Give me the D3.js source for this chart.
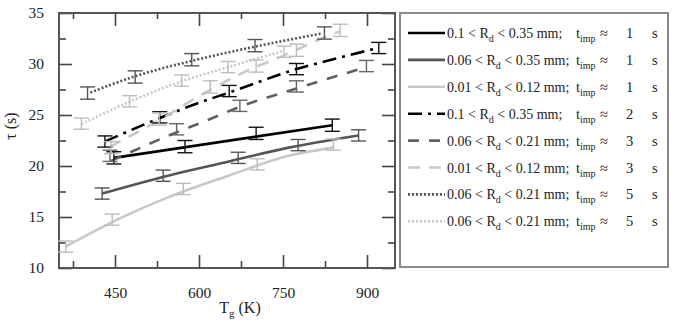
<!DOCTYPE html>
<html>
<head>
<meta charset="utf-8">
<script src="https://cdn.jsdelivr.net/npm/d3@7"></script>
<style>
  body { margin: 0; background: #fff; }
  svg { display: block; font-family: "Liberation Serif", "DejaVu Serif", serif; }
</style>
</head>
<body>
<svg id="chart" width="685" height="327"></svg>
<script>
// legend text, one entry per series
var rangeLabels = ["0.1 < R|d| < 0.35 mm;", "0.06 < R|d| < 0.35 mm;", "0.01 < R|d| < 0.12 mm;",
    "0.1 < R|d| < 0.35 mm;", "0.06 < R|d| < 0.21 mm;", "0.01 < R|d| < 0.12 mm;",
    "0.06 < R|d| < 0.21 mm;", "0.06 < R|d| < 0.21 mm;"];
var impTimes = ["1", "1", "1", "2", "3", "3", "5", "5"];

// measured points (T_g in K, tau in s) with half error bars
var pointT = [
    [448, 575, 702, 838],
    [427, 536, 670, 777, 885],
    [362, 445, 572, 704, 840],
    [432, 530, 654, 774, 921],
    [441, 560, 673, 774, 899],
    [443, 529, 620, 702, 774, 852],
    [401, 486, 587, 700, 824],
    [390, 476, 569, 652, 752]
];
var pointTau = [
    [20.8, 21.9, 23.2, 24.0],
    [17.3, 19.05, 20.8, 22.05, 23.0],
    [12.1, 14.74, 17.75, 20.16, 22.1],
    [22.4, 24.77, 27.35, 29.5, 31.57],
    [21.0, 23.6, 25.9, 27.8, 29.8],
    [21.8, 24.6, 27.75, 29.8, 31.35, 33.3],
    [27.15, 28.73, 30.42, 31.8, 33.04],
    [24.15, 26.34, 28.37, 29.7, 31.2]
];
var pointErr = [0.6, 0.55, 0.55, 0.55, 0.55, 0.6, 0.6, 0.55];

// fitted curves
var fitT = [
    [448, 838],
    [427, 548, 650, 760, 885],
    [362, 445, 548, 655, 760, 840],
    [432, 530, 600, 654, 774, 850, 921],
    [443, 560, 611, 673, 774, 899],
    [441, 529, 602, 673, 754, 837, 852],
    [406, 486, 587, 700, 820],
    [390, 476, 569, 652, 752]
];
var fitTau = [
    [20.8, 24.0],
    [17.3, 19.1, 20.4, 21.8, 23.0],
    [12.1, 14.5, 17.0, 19.1, 21.0, 21.8],
    [22.4, 24.7, 26.2, 27.2, 29.5, 30.6, 31.6],
    [20.5, 23.3, 24.4, 25.8, 27.6, 29.7],
    [21.9, 24.5, 26.9, 29.0, 30.9, 32.9, 33.2],
    [27.2, 28.8, 30.3, 31.7, 33.0],
    [24.1, 26.3, 28.3, 29.7, 31.3]
];

var xMajor = [450, 600, 750, 900];
var xMinor = [375, 525, 675, 825];
var yMajor = [10, 15, 20, 25, 30, 35];
var yMinor = [12.5, 17.5, 22.5, 27.5, 32.5];

var lineColors = ["#000", "#555", "#c8c8c8", "#000", "#606060", "#c8c8c8", "#555", "#c8c8c8"];
var barColors = ["#111", "#555", "#bdbdbd", "#111", "#666", "#bdbdbd", "#555", "#bdbdbd"];
var dashes = [null, null, null, "14,6,3,6", "11,10", "12,9", "2,2", "2,2"];

var svg = d3.select("#chart");
var plotLeft = 59, plotRight = 395, plotTop = 13, plotBottom = 268;

var x = d3.scaleLinear().domain([350, 950]).range([plotLeft, plotRight]);
var y = d3.scaleLinear().domain([10, 35]).range([plotBottom, plotTop]);

function tickAxis(axis, pos, values, size, labels) {
    var g = svg.append("g")
        .attr("transform", pos)
        .call(axis.tickValues(values).tickSizeInner(-size).tickSizeOuter(0)
            .tickPadding(labels ? 19 : 0)
            .tickFormat(labels ? d3.format("d") : ""));
    g.select(".domain").remove();
    g.selectAll(".tick line").attr("stroke", "#444").attr("stroke-width", 1.6);
    g.selectAll(".tick text").attr("font-size", 15.5).attr("fill", "#222")
        .attr("font-family", "Liberation Serif, serif");
    return g;
}

tickAxis(d3.axisBottom(x), "translate(0," + plotBottom + ")", xMajor, 13, true);
tickAxis(d3.axisBottom(x), "translate(0," + plotBottom + ")", xMinor, 7, false);
tickAxis(d3.axisTop(x), "translate(0," + plotTop + ")", xMajor, 13, false);
tickAxis(d3.axisTop(x), "translate(0," + plotTop + ")", xMinor, 6, false);
var yl = tickAxis(d3.axisLeft(y), "translate(" + plotLeft + ",0)", yMajor, 13, true);
yl.selectAll(".tick text").attr("x", -15);
tickAxis(d3.axisLeft(y), "translate(" + plotLeft + ",0)", yMinor, 7, false);
tickAxis(d3.axisRight(y), "translate(" + plotRight + ",0)", yMajor, 13, false);
tickAxis(d3.axisRight(y), "translate(" + plotRight + ",0)", yMinor, 7, false);

svg.append("rect")
    .attr("x", plotLeft).attr("y", plotTop)
    .attr("width", plotRight - plotLeft).attr("height", plotBottom - plotTop)
    .attr("fill", "none").attr("stroke", "#555").attr("stroke-width", 2);

// curves
var line = d3.line().x(d => x(d[0])).y(d => y(d[1])).curve(d3.curveMonotoneX);
fitT.forEach(function(ts, i) {
    var pts = ts.map((t, j) => [t, fitTau[i][j]]);
    svg.append("path")
        .attr("d", line(pts))
        .attr("fill", "none")
        .attr("stroke", lineColors[i])
        .attr("stroke-width", 2.6)
        .attr("stroke-dasharray", dashes[i]);
});

// error bars
pointT.forEach(function(ts, i) {
    var g = svg.append("g").attr("stroke", barColors[i]).attr("stroke-width", 1.4);
    ts.forEach(function(t, j) {
        var cx = x(t), lo = y(pointTau[i][j] - pointErr[i]), hi = y(pointTau[i][j] + pointErr[i]);
        g.append("line").attr("x1", cx).attr("x2", cx).attr("y1", lo).attr("y2", hi);
        g.append("line").attr("x1", cx - 7.5).attr("x2", cx + 7.5).attr("y1", lo).attr("y2", lo);
        g.append("line").attr("x1", cx - 7.5).attr("x2", cx + 7.5).attr("y1", hi).attr("y2", hi);
    });
});

// axis titles
svg.append("text")
    .attr("transform", "translate(16,126) rotate(-90)")
    .attr("text-anchor", "middle")
    .attr("font-size", 16).attr("fill", "#222")
    .text("\u03c4 (s)");

var xt = svg.append("text")
    .attr("x", 240).attr("y", 313)
    .attr("text-anchor", "middle")
    .attr("font-size", 16).attr("fill", "#222");
xt.append("tspan").text("T");
xt.append("tspan").attr("font-size", 11).attr("dy", 4).text("g");
xt.append("tspan").attr("dy", -4).text(" (K)");

// legend
svg.append("rect")
    .attr("x", 400).attr("y", 13)
    .attr("width", 268).attr("height", 254)
    .attr("fill", "none").attr("stroke", "#8a8a8a").attr("stroke-width", 2);

function subText(sel, str) {
    var parts = str.split("|");
    parts.forEach(function(p, k) {
        if (k % 2 === 1) {
            sel.append("tspan").attr("font-size", 10).attr("dy", 4).text(p);
        } else {
            sel.append("tspan").attr("dy", k === 0 ? 0 : -4).text(p);
        }
    });
}

rangeLabels.forEach(function(lab, i) {
    var ly = 33 + 26.9 * i;
    var ty = ly + 5;
    svg.append("line")
        .attr("x1", 408).attr("x2", 445).attr("y1", ly).attr("y2", ly)
        .attr("stroke", lineColors[i]).attr("stroke-width", 2.6)
        .attr("stroke-dasharray", dashes[i]);
    var t1 = svg.append("text").attr("x", 447).attr("y", ty)
        .attr("font-size", 14).attr("fill", "#222");
    subText(t1, lab);
    var t2 = svg.append("text").attr("x", 576).attr("y", ty)
        .attr("font-size", 14.5).attr("fill", "#222");
    subText(t2, "t|imp|");
    svg.append("text").attr("x", 600).attr("y", ty)
        .attr("font-size", 14.5).attr("fill", "#222").text("\u2248");
    svg.append("text").attr("x", 626).attr("y", ty)
        .attr("font-size", 14.5).attr("fill", "#222").text(impTimes[i]);
    svg.append("text").attr("x", 652).attr("y", ty)
        .attr("font-size", 14.5).attr("fill", "#222").text("s");
});
</script>
</body>
</html>
